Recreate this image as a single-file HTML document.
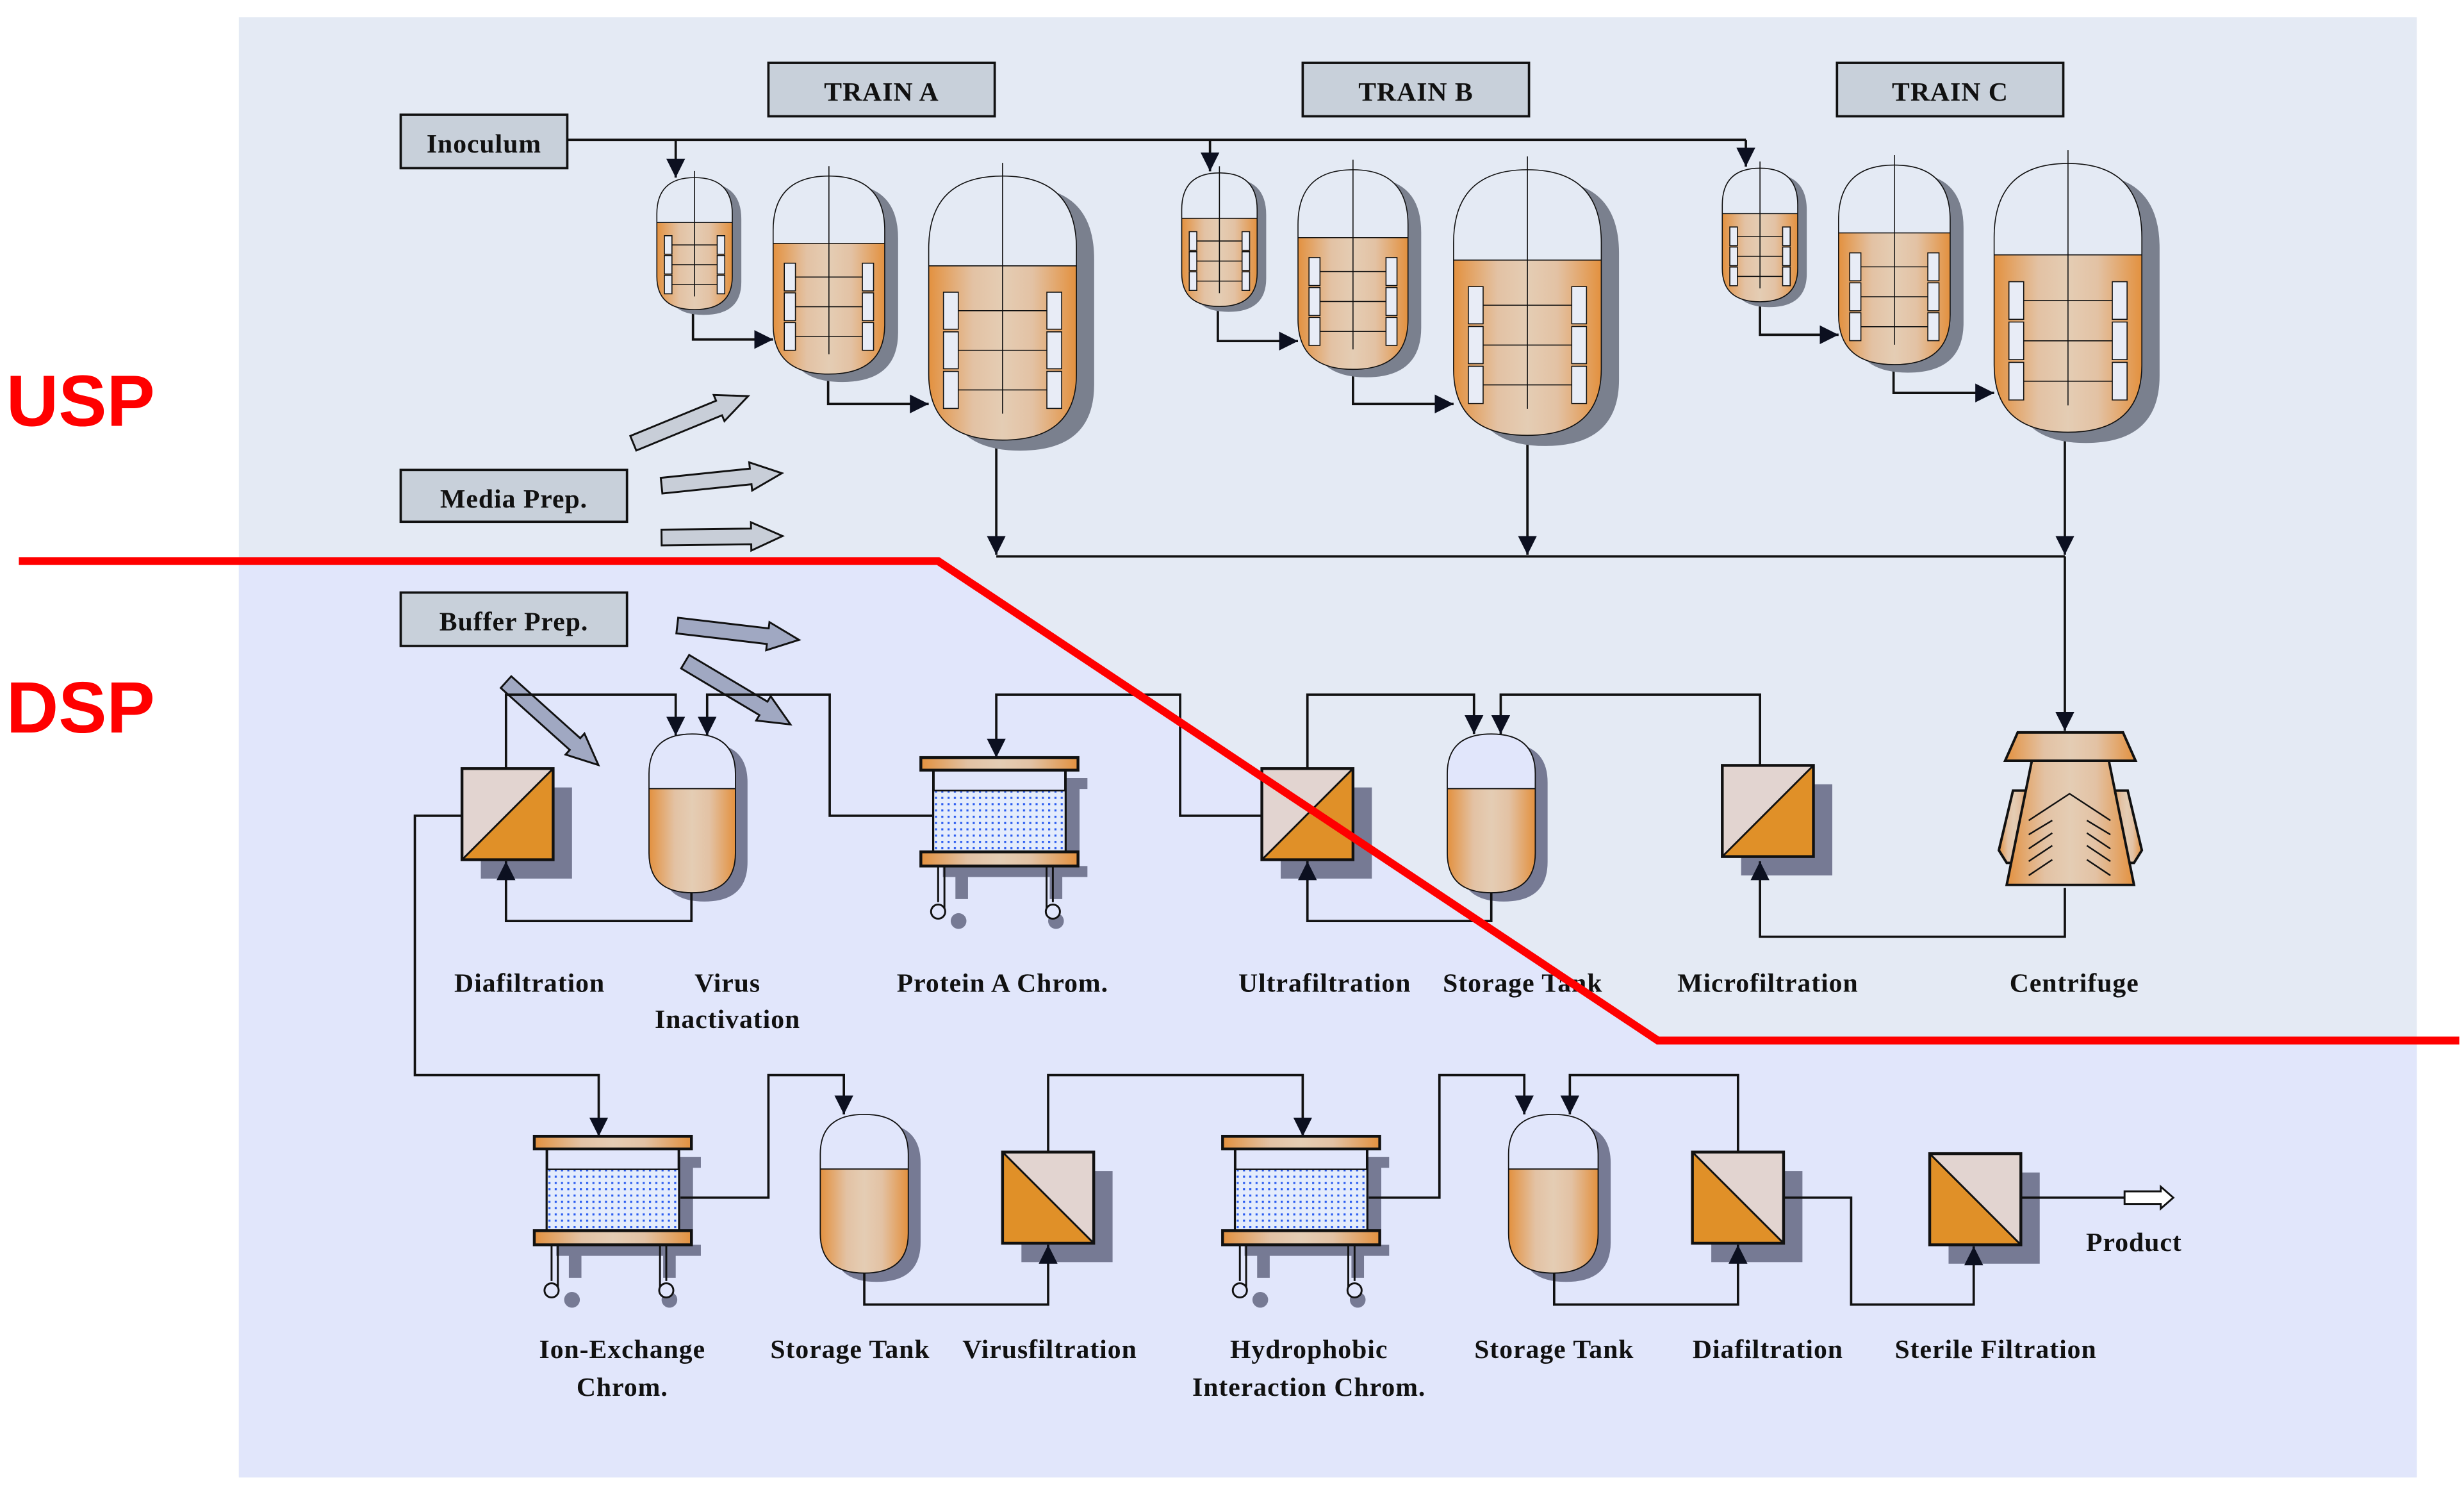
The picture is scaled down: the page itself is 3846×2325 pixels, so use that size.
<!DOCTYPE html>
<html><head><meta charset="utf-8"><style>
html,body{margin:0;padding:0;background:#fff;}
svg{display:block;}
text{font-family:"Liberation Serif",serif;font-weight:bold;fill:#111;}
</style></head><body>
<svg width="3846" height="2325" viewBox="0 0 1568 948" preserveAspectRatio="none" xmlns="http://www.w3.org/2000/svg">
<defs>
<linearGradient id="cu" x1="0" x2="1" y1="0" y2="0">
<stop offset="0" stop-color="#e3913f"/><stop offset="0.3" stop-color="#e3c2a4"/><stop offset="0.5" stop-color="#e4cdb4"/><stop offset="0.7" stop-color="#e3c2a4"/><stop offset="1" stop-color="#e3913f"/>
</linearGradient>
<pattern id="dots" width="4" height="4" patternUnits="userSpaceOnUse">
<rect width="4" height="4" fill="#e4ecfc"/><rect x="1" y="1" width="1.3" height="1.3" fill="#2a5cf0"/>
</pattern>
<marker id="ah" markerUnits="userSpaceOnUse" markerWidth="12" markerHeight="12" viewBox="0 0 10 10" refX="10" refY="5" orient="auto">
<path d="M0,0 L10,5 L0,10 Z" fill="#0c1020"/>
</marker>
<symbol id="reactor" viewBox="0 0 100 200" preserveAspectRatio="none" overflow="visible">
<path d="M12,63 Q12,8 62,8 Q112,8 112,63 L112,158 Q112,208 62,208 Q12,208 12,158 Z" fill="#7a808e"/>
<path d="M0,55 Q0,0 50,0 Q100,0 100,55 L100,150 Q100,200 50,200 Q0,200 0,150 Z" fill="#e4eaf4"/>
<path d="M0,68 L100,68 L100,150 Q100,200 50,200 Q0,200 0,150 Z" fill="url(#cu)"/>
<path d="M0,55 Q0,0 50,0 Q100,0 100,55 L100,150 Q100,200 50,200 Q0,200 0,150 Z M0,68 L100,68" fill="none" stroke="#111" stroke-width="1.6" vector-effect="non-scaling-stroke"/>
<g stroke="#111" stroke-width="1.6" vector-effect="non-scaling-stroke" fill="#e8ecf6">
<line x1="50" y1="-10" x2="50" y2="180" vector-effect="non-scaling-stroke"/>
<line x1="20" y1="102" x2="80" y2="102" vector-effect="non-scaling-stroke"/>
<line x1="20" y1="132" x2="80" y2="132" vector-effect="non-scaling-stroke"/>
<line x1="20" y1="162" x2="80" y2="162" vector-effect="non-scaling-stroke"/>
<rect x="10" y="88" width="10" height="28" vector-effect="non-scaling-stroke"/>
<rect x="80" y="88" width="10" height="28" vector-effect="non-scaling-stroke"/>
<rect x="10" y="118" width="10" height="28" vector-effect="non-scaling-stroke"/>
<rect x="80" y="118" width="10" height="28" vector-effect="non-scaling-stroke"/>
<rect x="10" y="148" width="10" height="28" vector-effect="non-scaling-stroke"/>
<rect x="80" y="148" width="10" height="28" vector-effect="non-scaling-stroke"/>
</g>
</symbol>
<symbol id="tank" viewBox="0 0 100 180" preserveAspectRatio="none" overflow="visible">
<path d="M14,55 Q14,10 64,10 Q114,10 114,55 L114,145 Q114,190 64,190 Q14,190 14,145 Z" fill="#767a94"/>
<path d="M0,45 Q0,0 50,0 Q100,0 100,45 L100,135 Q100,180 50,180 Q0,180 0,135 Z" fill="#e1e6fb"/>
<path d="M0,62 L100,62 L100,135 Q100,180 50,180 Q0,180 0,135 Z" fill="url(#cu)"/>
<path d="M0,45 Q0,0 50,0 Q100,0 100,45 L100,135 Q100,180 50,180 Q0,180 0,135 Z M0,62 L100,62" fill="none" stroke="#111" stroke-width="1.8" vector-effect="non-scaling-stroke"/>
</symbol>
<symbol id="f1" viewBox="0 0 58 58" overflow="visible">
<rect x="12" y="12" width="58" height="58" fill="#767a94"/>
<rect x="0" y="0" width="58" height="58" fill="#e2d4d0"/>
<path d="M58,0 L58,58 L0,58 Z" fill="#e09028"/>
<rect x="0" y="0" width="58" height="58" fill="none" stroke="#111" stroke-width="1.8"/>
<line x1="0" y1="58" x2="58" y2="0" stroke="#111" stroke-width="1.2"/>
</symbol>
<symbol id="f2" viewBox="0 0 58 58" overflow="visible">
<rect x="12" y="12" width="58" height="58" fill="#767a94"/>
<rect x="0" y="0" width="58" height="58" fill="#e2d4d0"/>
<path d="M0,0 L58,58 L0,58 Z" fill="#e09028"/>
<rect x="0" y="0" width="58" height="58" fill="none" stroke="#111" stroke-width="1.8"/>
<line x1="0" y1="0" x2="58" y2="58" stroke="#111" stroke-width="1.2"/>
</symbol>
<symbol id="col" viewBox="0 0 100 110" overflow="visible">
<path d="M92,13 L106,13 L106,20 L101,20 L101,69 L106,69 L106,76 L90,76 L90,90 L82,90 L82,76 L30,76 L30,90 L22,90 L22,76 L14,76 L14,66 L92,66 Z" fill="#767a94"/>
<circle cx="24" cy="104" r="5" fill="#767a94"/><circle cx="86" cy="104" r="5" fill="#767a94"/>
<rect x="8" y="8" width="84" height="52" fill="#e1e6fb" stroke="#111" stroke-width="1.6"/>
<rect x="8" y="21" width="84" height="39" fill="url(#dots)" stroke="#111" stroke-width="1"/>
<rect x="0" y="0" width="100" height="8" fill="url(#cu)" stroke="#111" stroke-width="1.8"/>
<rect x="0" y="60" width="100" height="9" fill="url(#cu)" stroke="#111" stroke-width="1.8"/>
<g stroke="#111" stroke-width="1.2" fill="none">
<path d="M11,69 L11,92 M15,69 L15,96"/><path d="M80,69 L80,96 M84,69 L84,92"/>
<circle cx="11" cy="98" r="4.5" fill="#e1e6fb"/><circle cx="84" cy="98" r="4.5" fill="#e1e6fb"/>
</g>
</symbol>
</defs>

<rect x="152" y="11" width="1386" height="929" fill="#e4eaf4"/>
<polygon points="152,356 597,356 1055,662 1538,662 1538,940 152,940" fill="#e1e6fb"/>

<text x="4" y="271" style="font-family:'Liberation Sans',sans-serif;font-size:46px;fill:#ff0000;">USP</text>
<text x="4" y="466" style="font-family:'Liberation Sans',sans-serif;font-size:46px;fill:#ff0000;">DSP</text>

<g fill="#c8d0da" stroke="#111" stroke-width="1.5">
<rect x="489" y="40" width="144" height="34"/>
<rect x="829" y="40" width="144" height="34"/>
<rect x="1169" y="40" width="144" height="34"/>
<rect x="255" y="73" width="106" height="34"/>
<rect x="255" y="299" width="144" height="33"/>
<rect x="255" y="377" width="144" height="34"/>
</g>
<g font-size="17" text-anchor="middle" letter-spacing="0.4">
<text x="561" y="64">TRAIN A</text>
<text x="901" y="64">TRAIN B</text>
<text x="1241" y="64">TRAIN C</text>
<text x="308" y="97">Inoculum</text>
<text x="327" y="323">Media Prep.</text>
<text x="327" y="401">Buffer Prep.</text>
</g>

<g fill="#c8ced8" stroke="#111" stroke-width="1.2">
<g transform="translate(403,282) rotate(-22.3)"><polygon points="0,-5 59,-5 59,-9 79,0 59,9 59,5 0,5"/></g>
<g transform="translate(421,309) rotate(-5.9)"><polygon points="0,-5 57,-5 57,-9 77,0 57,9 57,5 0,5"/></g>
<g transform="translate(421,342) rotate(-0.7)"><polygon points="0,-5 57,-5 57,-9 77,0 57,9 57,5 0,5"/></g>
</g>
<g fill="#a0a8c2" stroke="#111" stroke-width="1.2">
<g transform="translate(431,398) rotate(6.7)"><polygon points="0,-5 58,-5 58,-9 78,0 58,9 58,5 0,5"/></g>
<g transform="translate(322,434) rotate(41.9)"><polygon points="0,-5 59,-5 59,-9 79,0 59,9 59,5 0,5"/></g>
<g transform="translate(436,421) rotate(30.8)"><polygon points="0,-5 58,-5 58,-9 78,0 58,9 58,5 0,5"/></g>
</g>

<g fill="none" stroke="#111" stroke-width="1.5">
<path d="M361,89 L1111,89"/>
<path d="M430,89 L430,113" marker-end="url(#ah)"/>
<path d="M770,89 L770,109" marker-end="url(#ah)"/>
<path d="M1111,89 L1111,106" marker-end="url(#ah)"/>
<path d="M441,197 L441,216 L492,216" marker-end="url(#ah)"/>
<path d="M527,238 L527,257 L591,257" marker-end="url(#ah)"/>
<path d="M775,195 L775,217 L826,217" marker-end="url(#ah)"/>
<path d="M861,235 L861,257 L925,257" marker-end="url(#ah)"/>
<path d="M1120,192 L1120,213 L1170,213" marker-end="url(#ah)"/>
<path d="M1205,232 L1205,250 L1269,250" marker-end="url(#ah)"/>
<path d="M634,280 L634,353" marker-end="url(#ah)"/>
<path d="M972,277 L972,353" marker-end="url(#ah)"/>
<path d="M1314,275 L1314,353" marker-end="url(#ah)"/>
<path d="M634,354 L1314,354"/>
<path d="M1314,354 L1314,465" marker-end="url(#ah)"/>
</g>

<use href="#reactor" x="418" y="113" width="48" height="84"/>
<use href="#reactor" x="492" y="112" width="71" height="126"/>
<use href="#reactor" x="591" y="112" width="94" height="168"/>
<use href="#reactor" x="752" y="110" width="48" height="85"/>
<use href="#reactor" x="826" y="108" width="70" height="127"/>
<use href="#reactor" x="925" y="108" width="94" height="169"/>
<use href="#reactor" x="1096" y="107" width="48" height="85"/>
<use href="#reactor" x="1170" y="105" width="71" height="127"/>
<use href="#reactor" x="1269" y="104" width="94" height="171"/>

<use href="#f1" x="294" y="489" width="58" height="58"/>
<use href="#f1" x="803" y="489" width="58" height="58"/>
<use href="#f1" x="1096" y="487" width="58" height="58"/>
<use href="#f2" x="638" y="733" width="58" height="58"/>
<use href="#f2" x="1077" y="733" width="58" height="58"/>
<use href="#f2" x="1228" y="734" width="58" height="58"/>

<use href="#tank" x="413" y="467" width="55" height="101"/>
<use href="#tank" x="921" y="467" width="56" height="101"/>
<use href="#tank" x="522" y="709" width="56" height="101"/>
<use href="#tank" x="960" y="709" width="57" height="101"/>

<use href="#col" x="586" y="482" width="100" height="110"/>
<use href="#col" x="340" y="723" width="100" height="110"/>
<use href="#col" x="778" y="723" width="100" height="110"/>

<g stroke="#111" stroke-width="1.6">
<path d="M1291,503 L1281,503 L1272,541 L1277,549 L1282,549 L1289,506 Z" fill="url(#cu)"/>
<path d="M1344,503 L1354,503 L1363,541 L1358,549 L1353,549 L1346,506 Z" fill="url(#cu)"/>
<path d="M1293,484 L1342,484 L1358,563 L1277,563 Z" fill="url(#cu)"/>
<path d="M1284,466 L1351,466 L1359,484 L1276,484 Z" fill="url(#cu)"/>
<g fill="none" stroke-width="1">
<path d="M1291,522 L1317,505 L1343,522"/>
<path d="M1291,531 L1306,522 M1291,540 L1306,530 M1291,548 L1306,538 M1291,557 L1306,547"/>
<path d="M1343,531 L1328,522 M1343,540 L1328,530 M1343,548 L1328,538 M1343,557 L1328,547"/>
</g>
</g>

<!-- DSP connectors (on top of equipment) -->
<g fill="none" stroke="#111" stroke-width="1.5">
<path d="M1314,565 L1314,596 L1120,596 L1120,548" marker-end="url(#ah)"/>
<path d="M1120,487 L1120,442 L955,442 L955,467" marker-end="url(#ah)"/>
<path d="M832,489 L832,442 L938,442 L938,467" marker-end="url(#ah)"/>
<path d="M949,568 L949,586 L832,586 L832,548" marker-end="url(#ah)"/>
<path d="M803,519 L751,519 L751,442 L634,442 L634,482" marker-end="url(#ah)"/>
<path d="M594,519 L528,519 L528,442 L450,442 L450,468" marker-end="url(#ah)"/>
<path d="M322,489 L322,442 L430,442 L430,468" marker-end="url(#ah)"/>
<path d="M440,568 L440,586 L322,586 L322,548" marker-end="url(#ah)"/>
<path d="M294,519 L264,519 L264,684 L381,684 L381,723" marker-end="url(#ah)"/>
<path d="M433,762 L489,762 L489,684 L537,684 L537,709" marker-end="url(#ah)"/>
<path d="M550,810 L550,830 L667,830 L667,792" marker-end="url(#ah)"/>
<path d="M667,733 L667,684 L829,684 L829,723" marker-end="url(#ah)"/>
<path d="M871,762 L916,762 L916,684 L970,684 L970,709" marker-end="url(#ah)"/>
<path d="M1106,733 L1106,684 L999,684 L999,709" marker-end="url(#ah)"/>
<path d="M989,810 L989,830 L1106,830 L1106,792" marker-end="url(#ah)"/>
<path d="M1135,762 L1178,762 L1178,830 L1256,830 L1256,793" marker-end="url(#ah)"/>
<path d="M1286,762 L1352,762"/>
</g>
<polygon points="1352,758 1375,758 1375,755 1383,762 1375,769 1375,766 1352,766" fill="#fff" stroke="#111" stroke-width="1.2"/>

<g font-size="17" text-anchor="middle" letter-spacing="0.4">
<text x="337" y="631">Diafiltration</text>
<text x="463" y="631">Virus</text>
<text x="463" y="654">Inactivation</text>
<text x="638" y="631">Protein A Chrom.</text>
<text x="843" y="631">Ultrafiltration</text>
<text x="969" y="631">Storage Tank</text>
<text x="1125" y="631">Microfiltration</text>
<text x="1320" y="631">Centrifuge</text>
<text x="396" y="864">Ion-Exchange</text>
<text x="396" y="888">Chrom.</text>
<text x="541" y="864">Storage Tank</text>
<text x="668" y="864">Virusfiltration</text>
<text x="833" y="864">Hydrophobic</text>
<text x="833" y="888">Interaction Chrom.</text>
<text x="989" y="864">Storage Tank</text>
<text x="1125" y="864">Diafiltration</text>
<text x="1270" y="864">Sterile Filtration</text>
<text x="1358" y="796">Product</text>
</g>

<polyline points="12,357 597,357 1055,662 1565,662" fill="none" stroke="#ff0000" stroke-width="5"/>
</svg>
</body></html>
